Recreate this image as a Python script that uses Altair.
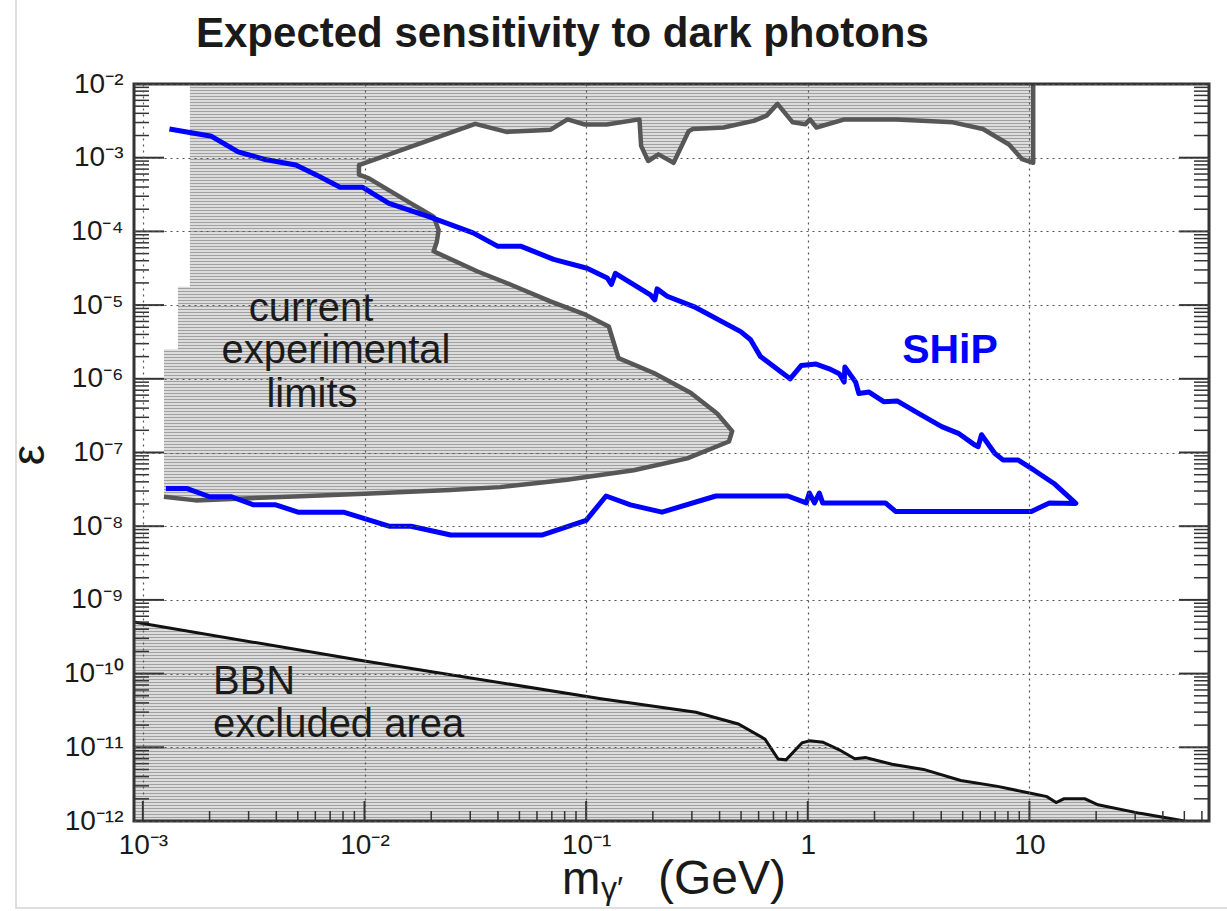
import math
import altair as alt
import pandas as pd

# ---------------- data ----------------
# SHiP sensitivity contour (upper branch -> tip -> lower branch), GeV / epsilon
ship_x = [1.318e-3, 2.042e-3, 2.69e-3, 3.51e-3, 4.90e-3, 6.03e-3, 7.76e-3, 9.77e-3, 1.29e-2, 1.95e-2,
          3.09e-2, 3.98e-2, 5.06e-2, 7.14e-2, 1.01e-1, 1.245e-1, 1.30e-1, 1.355e-1, 1.95e-1, 2.04e-1,
          2.09e-1, 2.32e-1, 3.06e-1, 4.98e-1, 5.52e-1, 6.12e-1, 8.32e-1, 9.33e-1, 1.09, 1.25,
          1.387, 1.459, 1.47, 1.644, 1.70, 1.89, 2.20, 2.53, 3.16, 4.02,
          4.78, 5.68, 5.87, 6.08, 6.97, 7.59, 8.87, 10.5, 12.9, 16.2,
          12.3, 10.2, 2.49, 2.24, 1.167, 1.127, 1.072, 1.016, 0.984, 0.813,
          0.385, 0.220, 0.1585, 0.123, 0.1, 0.0631, 0.0245, 0.0162, 0.0129, 8.04e-3,
          5.01e-3, 3.98e-3, 3.16e-3, 2.51e-3, 2.0e-3, 1.585e-3, 1.27e-3]
ship_y = [2.455e-3, 1.95e-3, 1.20e-3, 9.55e-4, 7.94e-4, 5.89e-4, 3.98e-4, 3.98e-4, 2.40e-4, 1.585e-4,
          9.55e-5, 6.31e-5, 6.31e-5, 4.17e-5, 3.16e-5, 2.34e-5, 1.905e-5, 2.69e-5, 1.38e-5, 1.175e-5,
          1.66e-5, 1.32e-5, 9.55e-6, 4.37e-6, 3.39e-6, 2.0e-6, 1.0e-6, 1.51e-6, 1.585e-6, 1.365e-6,
          1.175e-6, 9.02e-7, 1.445e-6, 9.02e-7, 6.31e-7, 6.61e-7, 4.90e-7, 5.01e-7, 3.39e-7, 2.24e-7,
          1.82e-7, 1.26e-7, 1.20e-7, 1.74e-7, 9.77e-8, 7.94e-8, 7.94e-8, 5.75e-8, 3.80e-8, 2.04e-8,
          2.07e-8, 1.585e-8, 1.585e-8, 2.07e-8, 2.07e-8, 2.82e-8, 2.07e-8, 2.82e-8, 2.07e-8, 2.57e-8,
          2.57e-8, 1.55e-8, 1.95e-8, 2.57e-8, 1.20e-8, 7.59e-9, 7.59e-9, 1.0e-8, 1.0e-8, 1.55e-8,
          1.55e-8, 1.95e-8, 1.95e-8, 2.51e-8, 2.51e-8, 3.24e-8, 3.24e-8]

# outlined edge of the "current experimental limits" region
limits_edge_x = [10.4, 10.4, 9.27, 8.09, 6.17, 4.51, 2.51, 1.466, 1.094, 1.023,
                 0.977, 0.855, 0.730, 0.652, 0.570, 0.417, 0.303, 0.290, 0.248, 0.212,
                 0.1905, 0.177, 0.174, 0.1236, 0.0986, 0.0824, 0.0692, 0.0596, 0.0437, 0.0316,
                 9.44e-3, 9.44e-3, 0.01047, 0.0162, 0.0182, 0.0205, 0.0216, 0.0212, 0.0205, 0.0322,
                 0.0455, 0.0690, 0.0993, 0.1265, 0.140, 0.202, 0.296, 0.390, 0.456, 0.441,
                 0.286, 0.164, 0.0820, 0.0410, 0.0244, 0.01, 5.53e-3, 1.73e-3, 1.245e-3]
limits_edge_y = [1e-2, 8.51e-4, 9.55e-4, 1.51e-3, 2.45e-3, 3.02e-3, 3.31e-3, 3.31e-3, 2.57e-3, 3.31e-3,
                 2.85e-3, 3.02e-3, 5.37e-3, 3.72e-3, 3.16e-3, 2.57e-3, 2.45e-3, 2.29e-3, 8.51e-4, 1.11e-3,
                 9.02e-4, 1.445e-3, 3.31e-3, 2.82e-3, 2.82e-3, 3.31e-3, 2.40e-3, 2.34e-3, 2.24e-3, 2.88e-3,
                 7.94e-4, 5.89e-4, 5.25e-4, 2.40e-4, 1.95e-4, 1.585e-4, 1.047e-4, 7.24e-5, 5.37e-5, 2.88e-5,
                 1.905e-5, 1.122e-5, 7.41e-6, 5.13e-6, 1.905e-6, 1.20e-6, 6.46e-7, 3.39e-7, 1.95e-7, 1.41e-7,
                 8.32e-8, 5.75e-8, 4.27e-8, 3.39e-8, 3.09e-8, 2.75e-8, 2.57e-8, 2.24e-8, 2.51e-8]
# un-outlined left edge of the same region (bottom -> top)
limits_left_x = [1.245e-3, 1.44e-3, 1.44e-3, 1.63e-3, 1.63e-3]
limits_left_y = [2.51e-6, 2.51e-6, 1.78e-5, 1.78e-5, 1e-2]

# BBN excluded area boundary
bbn_x = [9.12e-4, 1e-2, 0.1167, 0.313, 0.486, 0.641, 0.735, 0.798, 0.942, 1.023,
         1.17, 1.38, 1.63, 1.82, 2.40, 3.33, 4.90, 7.19, 10.0, 12.0,
         13.2, 14.3, 17.8, 20.4, 31.6, 50.1]
bbn_y = [5.01e-10, 1.48e-10, 4.57e-11, 2.99e-11, 2.07e-11, 1.29e-11, 6.92e-12, 6.76e-12, 1.15e-11, 1.23e-11,
         1.175e-11, 9.33e-12, 7.0e-12, 7.24e-12, 5.89e-12, 5.01e-12, 3.55e-12, 2.95e-12, 2.40e-12, 2.14e-12,
         1.78e-12, 2.0e-12, 2.0e-12, 1.66e-12, 1.27e-12, 1.0e-12]

# axes
X_DOMAIN = [9.12e-4, 64.6]
Y_DOMAIN = [1e-12, 1e-2]
x_decades = [1e-3, 1e-2, 1e-1, 1, 10]
y_decades = [1e-12, 1e-11, 1e-10, 1e-9, 1e-8, 1e-7, 1e-6, 1e-5, 1e-4, 1e-3, 1e-2]
x_tick_labels = ["10⁻³", "10⁻²", "10⁻¹", "1", "10"]
y_tick_labels = ["10⁻¹²", "10⁻¹¹", "10⁻¹⁰", "10⁻⁹", "10⁻⁸", "10⁻⁷", "10⁻⁶", "10⁻⁵", "10⁻⁴", "10⁻³", "10⁻²"]
mult = [2, 3, 4, 5, 6, 7, 8, 9]
x_minor = [m * d for d in x_decades for m in mult if m * d <= X_DOMAIN[1]]
y_minor = [m * d for d in y_decades[:-1] for m in mult]

# ---------------- layout ----------------
W, H = 1075, 737
FONT = "Liberation Sans"
EDGE = "#575757"
INK = "#1a1a1a"

xscale = alt.Scale(type="log", domain=X_DOMAIN, nice=False)
yscale = alt.Scale(type="log", domain=Y_DOMAIN, nice=False)


def hatch(y_top, y_bottom, period=3.0, dark=1.2, c1="#a0a0a0", c2="#dcdcdc"):
    """Horizontal-line hatching as a vertical gradient over the mark's bounding box."""
    decades = math.log10(Y_DOMAIN[1]) - math.log10(Y_DOMAIN[0])
    h = (math.log10(y_top) - math.log10(y_bottom)) / decades * H
    stops = []
    k = 0
    while k * period < h:
        o0 = min(1.0, k * period / h)
        o1 = min(1.0, (k * period + dark) / h)
        o2 = min(1.0, (k + 1) * period / h)
        stops += [alt.GradientStop(offset=o0, color=c1), alt.GradientStop(offset=o1, color=c1),
                  alt.GradientStop(offset=o1, color=c2), alt.GradientStop(offset=o2, color=c2)]
        k += 1
    return alt.LinearGradient(gradient="linear", stops=stops, x1=0, x2=0, y1=0, y2=1)


x_expr = "[" + ",".join(f"'{s}'" for s in x_tick_labels) + "][round(log(datum.value)/LN10)+3]"
y_expr = "[" + ",".join(f"'{s}'" for s in y_tick_labels) + "][round(log(datum.value)/LN10)+12]"

XA = alt.Axis(values=x_decades, labelExpr=x_expr, title=None, grid=True, ticks=False, tickSize=0,
              domain=False, labelFont=FONT, labelFontSize=28, labelColor=INK, labelPadding=10,
              gridDash=[2, 4], gridColor="#555", gridWidth=1.2, zindex=1, labelFlush=False)
YA = alt.Axis(values=y_decades, labelExpr=y_expr, title=None, grid=True, ticks=False, tickSize=0,
              domain=False, labelFont=FONT, labelFontSize=28, labelColor=INK, labelPadding=11,
              gridDash=[2, 4], gridColor="#555", gridWidth=1.2, zindex=1, labelFlush=False)


def X():
    return alt.X("x:Q", scale=xscale, axis=XA, title=None)


def Y():
    return alt.Y("y:Q", scale=yscale, axis=YA, title=None)


# filled region of current limits (closed polygon)
fill_x = limits_edge_x + limits_left_x
fill_y = limits_edge_y + limits_left_y
fill_df = pd.DataFrame({"x": fill_x, "y": fill_y, "i": list(range(len(fill_x)))})
limits_fill = alt.Chart(fill_df).mark_line(
    interpolate="linear-closed", fill=hatch(max(fill_y), min(fill_y)), strokeOpacity=0, clip=True
).encode(x=X(), y=Y(), order="i:Q")

edge_df = pd.DataFrame({"x": limits_edge_x, "y": limits_edge_y, "i": list(range(len(limits_edge_x)))})
limits_edge = alt.Chart(edge_df).mark_line(color=EDGE, strokeWidth=4.5, clip=True, strokeJoin="round").encode(
    x=X(), y=Y(), order="i:Q")

# BBN region: boundary closed through the lower-left corner of the plot
bbn_poly_x = bbn_x + [X_DOMAIN[0]]
bbn_poly_y = bbn_y + [Y_DOMAIN[0]]
bbn_poly = pd.DataFrame({"x": bbn_poly_x, "y": bbn_poly_y, "i": list(range(len(bbn_poly_x)))})
bbn_area = alt.Chart(bbn_poly).mark_line(
    interpolate="linear-closed", fill=hatch(max(bbn_poly_y), min(bbn_poly_y)), strokeOpacity=0, clip=True
).encode(x=X(), y=Y(), order="i:Q")
bbn_df = pd.DataFrame({"x": bbn_x, "y": bbn_y, "i": list(range(len(bbn_x)))})
bbn_line = alt.Chart(bbn_df).mark_line(color="#111", strokeWidth=3, clip=True).encode(
    x=X(), y=Y(), order="i:Q")

ship_df = pd.DataFrame({"x": ship_x, "y": ship_y, "i": list(range(len(ship_x)))})
ship = alt.Chart(ship_df).mark_line(color="#0000ff", strokeWidth=5, clip=True, strokeJoin="round").encode(
    x=X(), y=Y(), order="i:Q")

TICK = "#333"
ymaj = pd.DataFrame({"y": y_decades})
ymin = pd.DataFrame({"y": y_minor})
xmaj = pd.DataFrame({"x": x_decades})
xmin = pd.DataFrame({"x": x_minor})
ticks = [
    alt.Chart(ymaj).mark_rule(color=TICK, strokeWidth=2).encode(y=Y(), x=alt.value(0), x2=alt.value(30)),
    alt.Chart(ymin).mark_rule(color=TICK, strokeWidth=1.5).encode(y=Y(), x=alt.value(0), x2=alt.value(15)),
    alt.Chart(ymaj).mark_rule(color=TICK, strokeWidth=2).encode(y=Y(), x=alt.value(W), x2=alt.value(W - 30)),
    alt.Chart(ymin).mark_rule(color=TICK, strokeWidth=1.5).encode(y=Y(), x=alt.value(W), x2=alt.value(W - 15)),
    alt.Chart(xmaj).mark_rule(color=TICK, strokeWidth=2).encode(x=X(), y=alt.value(H), y2=alt.value(H - 20)),
    alt.Chart(xmin).mark_rule(color=TICK, strokeWidth=1.5).encode(x=X(), y=alt.value(H), y2=alt.value(H - 10)),
]

one = pd.DataFrame({"k": [0]})
frame = alt.Chart(one).mark_rect(fillOpacity=0, stroke="#333", strokeWidth=3).encode(
    x=alt.value(0), x2=alt.value(W), y=alt.value(0), y2=alt.value(H))
border = alt.Chart(one).mark_rect(fillOpacity=0, stroke="#d4d4d4", strokeWidth=1.5).encode(
    x=alt.value(-118), x2=alt.value(W + 40), y=alt.value(-100), y2=alt.value(H + 87))


def txt(s, x, y, size=40, weight="normal", color=INK, align="center", baseline="alphabetic", angle=0):
    return alt.Chart(pd.DataFrame({"t": [s]})).mark_text(
        font=FONT, fontSize=size, fontWeight=weight, color=color, align=align, baseline=baseline, angle=angle
    ).encode(text="t:N", x=alt.value(x), y=alt.value(y))


texts = [
    txt("Expected sensitivity to dark photons", 62, -37, size=42, weight="bold", align="left"),
    txt("current", 177, 237),
    txt("experimental", 202, 279),
    txt("limits", 178, 323),
    txt("BBN", 79, 610, align="left"),
    txt("excluded area", 79, 653, align="left"),
    txt("SHiP", 816, 279, size=41, weight="bold", color="#0000ff"),
    txt("ε", -104, 371, size=46, angle=270, baseline="middle"),
    txt("m", 428, 810, size=46, align="left"),
    txt("γ′", 467, 815, size=32, align="left"),
    txt("(GeV)", 524, 810, size=48, align="left"),
]

chart = alt.layer(
    limits_fill, bbn_area, bbn_line, limits_edge, ship, *ticks, frame, border, *texts
).properties(
    width=W, height=H,
    padding={"left": 134, "top": 84, "right": 18, "bottom": 90},
    autosize=alt.AutoSizeParams(type="none"),
    background="white",
).configure_view(stroke=None)

chart.save("out.html", embed_options={"renderer": "svg", "actions": False})
